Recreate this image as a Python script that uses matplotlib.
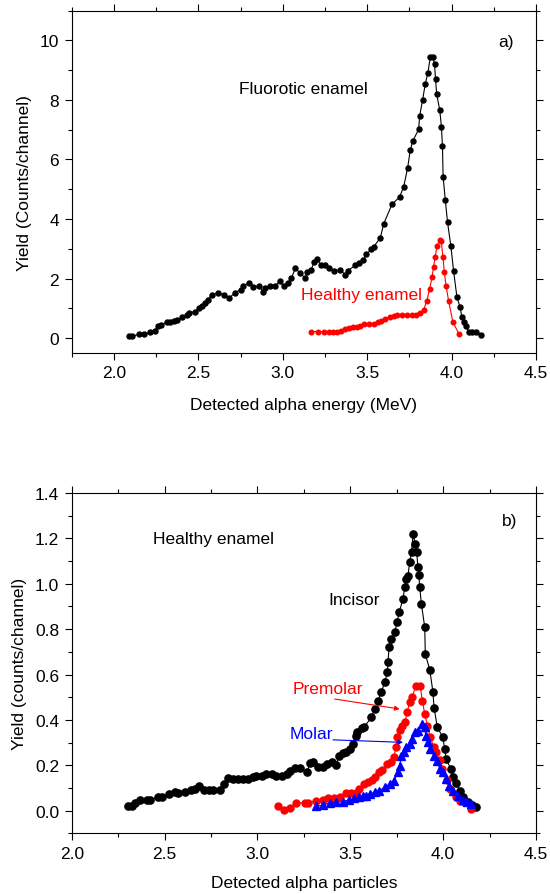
import matplotlib
matplotlib.use("Agg")
import matplotlib.pyplot as plt
from matplotlib.ticker import MultipleLocator

plt.rcParams['font.family'] = ['Liberation Sans', 'DejaVu Sans']

# a) fluorotic vs healthy enamel
fluor_x = [2.089, 2.108, 2.148, 2.178, 2.213, 2.243, 2.262, 2.276, 2.312, 2.331,
           2.355, 2.375, 2.404, 2.430, 2.444, 2.479, 2.503, 2.523, 2.542, 2.558,
           2.578, 2.617, 2.651, 2.684, 2.716, 2.750, 2.765, 2.799, 2.824, 2.860,
           2.884, 2.893, 2.923, 2.953, 2.982, 3.006, 3.030, 3.051, 3.075, 3.101,
           3.134, 3.144, 3.168, 3.187, 3.203, 3.229, 3.252, 3.272, 3.302, 3.337,
           3.371, 3.385, 3.430, 3.450, 3.475, 3.495, 3.523, 3.538, 3.578, 3.598,
           3.647, 3.692, 3.716, 3.740, 3.755, 3.771, 3.805, 3.811, 3.828, 3.844,
           3.860, 3.874, 3.890, 3.899, 3.905, 3.912, 3.930, 3.940, 3.946, 3.950,
           3.963, 3.976, 3.996, 4.012, 4.032, 4.051, 4.061, 4.071, 4.087, 4.101,
           4.120, 4.146, 4.174]
fluor_y = [0.08, 0.06, 0.13, 0.13, 0.19, 0.25, 0.42, 0.44, 0.53, 0.55,
           0.58, 0.61, 0.70, 0.79, 0.83, 0.89, 1.00, 1.09, 1.18, 1.29,
           1.46, 1.51, 1.46, 1.35, 1.52, 1.63, 1.76, 1.85, 1.70, 1.76,
           1.54, 1.67, 1.76, 1.74, 1.91, 1.74, 1.85, 2.01, 2.35, 2.19,
           2.01, 2.21, 2.30, 2.55, 2.64, 2.44, 2.44, 2.35, 2.24, 2.30,
           2.13, 2.27, 2.44, 2.53, 2.61, 2.81, 2.98, 3.06, 3.37, 3.84,
           4.49, 4.74, 5.08, 5.72, 6.31, 6.63, 7.01, 7.46, 7.99, 8.53,
           8.92, 9.43, 9.43, 9.20, 8.70, 8.19, 7.66, 7.10, 6.45, 5.42,
           4.63, 3.90, 3.08, 2.25, 1.37, 1.03, 0.70, 0.53, 0.42, 0.21,
           0.21, 0.19, 0.10]

healthy_x = [3.168, 3.207, 3.243, 3.272, 3.298, 3.321, 3.347, 3.367, 3.391, 3.416,
             3.440, 3.460, 3.483, 3.509, 3.538, 3.564, 3.582, 3.607, 3.633, 3.657,
             3.677, 3.706, 3.736, 3.765, 3.791, 3.815, 3.834, 3.854, 3.870, 3.884,
             3.893, 3.903, 3.913, 3.929, 3.939, 3.949, 3.957, 3.968, 3.982, 4.008,
             4.045]
healthy_y = [0.22, 0.22, 0.22, 0.22, 0.22, 0.22, 0.25, 0.30, 0.34, 0.36,
             0.36, 0.42, 0.47, 0.49, 0.49, 0.53, 0.58, 0.64, 0.70, 0.75,
             0.79, 0.79, 0.79, 0.79, 0.79, 0.83, 0.94, 1.26, 1.65, 2.04,
             2.38, 2.72, 3.08, 3.31, 3.26, 2.72, 2.21, 1.74, 1.26, 0.53,
             0.13]

# b) healthy enamel, three tooth types
incisor_x = [2.305, 2.323, 2.341, 2.368, 2.407, 2.421, 2.466, 2.484, 2.525, 2.556,
             2.574, 2.610, 2.640, 2.663, 2.687, 2.714, 2.741, 2.762, 2.798, 2.819,
             2.843, 2.870, 2.897, 2.923, 2.950, 2.974, 2.995, 3.022, 3.045, 3.076,
             3.099, 3.130, 3.157, 3.178, 3.201, 3.228, 3.268, 3.282, 3.300, 3.327,
             3.354, 3.377, 3.404, 3.425, 3.440, 3.461, 3.479, 3.497, 3.512, 3.530,
             3.534, 3.565, 3.573, 3.614, 3.632, 3.650, 3.668, 3.686, 3.700, 3.703,
             3.709, 3.721, 3.739, 3.752, 3.763, 3.784, 3.793, 3.802, 3.811, 3.820,
             3.830, 3.838, 3.850, 3.858, 3.864, 3.869, 3.874, 3.883, 3.901, 3.904,
             3.928, 3.945, 3.951, 3.969, 3.999, 4.008, 4.017, 4.041, 4.053, 4.071,
             4.089, 4.107, 4.134, 4.157, 4.179]
incisor_y = [0.022, 0.019, 0.034, 0.048, 0.047, 0.047, 0.059, 0.059, 0.073, 0.081,
             0.078, 0.081, 0.093, 0.095, 0.107, 0.093, 0.093, 0.093, 0.093, 0.118,
             0.143, 0.140, 0.140, 0.140, 0.140, 0.147, 0.154, 0.154, 0.162, 0.162,
             0.154, 0.154, 0.162, 0.173, 0.187, 0.187, 0.169, 0.209, 0.213, 0.191,
             0.191, 0.206, 0.213, 0.201, 0.242, 0.254, 0.260, 0.272, 0.294, 0.331,
             0.348, 0.363, 0.367, 0.411, 0.448, 0.485, 0.524, 0.566, 0.613, 0.654,
             0.720, 0.757, 0.786, 0.830, 0.874, 0.933, 0.984, 1.021, 1.036, 1.097,
             1.139, 1.219, 1.175, 1.141, 1.072, 1.039, 0.984, 0.911, 0.808, 0.690,
             0.621, 0.524, 0.454, 0.367, 0.323, 0.272, 0.228, 0.184, 0.150, 0.122,
             0.088, 0.059, 0.037, 0.025, 0.018]

premolar_x = [3.112, 3.142, 3.178, 3.207, 3.255, 3.273, 3.318, 3.354, 3.381, 3.413,
              3.443, 3.476, 3.503, 3.529, 3.547, 3.574, 3.596, 3.617, 3.632, 3.655,
              3.673, 3.700, 3.718, 3.736, 3.745, 3.754, 3.766, 3.779, 3.793, 3.807,
              3.820, 3.834, 3.852, 3.877, 3.888, 3.901, 3.915, 3.931, 3.949, 3.963,
              3.981, 3.996, 4.023, 4.039, 4.067, 4.089, 4.112, 4.152]
premolar_y = [0.019, 0.004, 0.010, 0.034, 0.034, 0.034, 0.044, 0.048, 0.054, 0.054,
              0.059, 0.078, 0.078, 0.078, 0.095, 0.118, 0.128, 0.135, 0.147, 0.169,
              0.179, 0.206, 0.213, 0.235, 0.279, 0.323, 0.357, 0.372, 0.389, 0.433,
              0.480, 0.502, 0.548, 0.548, 0.485, 0.426, 0.375, 0.323, 0.282, 0.257,
              0.223, 0.184, 0.137, 0.095, 0.059, 0.044, 0.037, 0.007]

molar_x = [3.318, 3.354, 3.390, 3.425, 3.461, 3.494, 3.521, 3.547, 3.569, 3.587,
           3.608, 3.632, 3.655, 3.686, 3.712, 3.736, 3.757, 3.766, 3.775, 3.788,
           3.802, 3.820, 3.834, 3.847, 3.865, 3.888, 3.901, 3.906, 3.919, 3.928,
           3.951, 3.969, 3.981, 3.999, 4.017, 4.032, 4.053, 4.080, 4.107, 4.128,
           4.152]
molar_y = [0.019, 0.025, 0.034, 0.037, 0.040, 0.048, 0.054, 0.059, 0.063, 0.066,
           0.073, 0.081, 0.088, 0.103, 0.118, 0.132, 0.169, 0.198, 0.242, 0.257,
           0.279, 0.294, 0.316, 0.345, 0.353, 0.382, 0.367, 0.331, 0.301, 0.272,
           0.242, 0.220, 0.184, 0.169, 0.140, 0.110, 0.088, 0.066, 0.048, 0.040,
           0.029]

fs = 12.5

fig = plt.figure(figsize=(5.5, 8.95), dpi=100)
ax1 = fig.add_axes([0.1304, 0.6045, 0.8441, 0.3825])
ax2 = fig.add_axes([0.1304, 0.0678, 0.8441, 0.3802])


def style(ax):
    ax.tick_params(which='both', direction='out', top=True, right=True,
                   labeltop=False, labelright=False, labelsize=fs, width=0.8, pad=4)
    ax.tick_params(which='major', length=5)
    ax.tick_params(which='minor', length=3)
    for s in ax.spines.values():
        s.set_linewidth(0.8)


# panel a
ax1.plot(fluor_x, fluor_y, '-o', color='black', lw=0.8, ms=3.6)
ax1.plot(healthy_x, healthy_y, '-o', color='red', lw=0.8, ms=3.3)
ax1.set_xlim(1.75, 4.5)
ax1.set_ylim(-0.5, 11)
ax1.xaxis.set_major_locator(MultipleLocator(0.5))
ax1.xaxis.set_minor_locator(MultipleLocator(0.25))
ax1.yaxis.set_major_locator(MultipleLocator(2))
ax1.yaxis.set_minor_locator(MultipleLocator(1))
ax1.xaxis.set_major_formatter(lambda v, p: f"{v:.1f}")
style(ax1)
ax1.set_xlabel("Detected alpha energy (MeV)", fontsize=fs, labelpad=12)
ax1.set_ylabel("Yield (Counts/channel)", fontsize=fs, labelpad=6)
ax1.text(2.738, 8.39, "Fluorotic enamel", fontsize=fs, va='center', ha='left')
ax1.text(3.109, 1.46, "Healthy enamel", fontsize=fs, va='center', ha='left', color='red')
ax1.text(0.918, 0.909, "a)", fontsize=fs, transform=ax1.transAxes, va='center')

# panel b
ax2.plot(incisor_x, incisor_y, '-o', color='black', lw=0.8, ms=5.2)
ax2.plot(premolar_x, premolar_y, '-o', color='red', lw=0.8, ms=5.0)
ax2.plot(molar_x, molar_y, '-^', color='blue', lw=0.8, ms=5.6)
ax2.set_xlim(2.0, 4.5)
ax2.set_ylim(-0.1, 1.4)
ax2.xaxis.set_major_locator(MultipleLocator(0.5))
ax2.xaxis.set_minor_locator(MultipleLocator(0.25))
ax2.yaxis.set_major_locator(MultipleLocator(0.2))
ax2.yaxis.set_minor_locator(MultipleLocator(0.1))
ax2.xaxis.set_major_formatter(lambda v, p: f"{v:.1f}")
ax2.yaxis.set_major_formatter(lambda v, p: f"{v:.1f}")
style(ax2)
ax2.set_xlabel("Detected alpha particles", fontsize=fs, labelpad=10)
ax2.set_ylabel("Yield (counts/channel)", fontsize=fs, labelpad=6)
ax2.text(2.436, 1.20, "Healthy enamel", fontsize=fs, va='center', ha='left')
ax2.text(3.380, 0.93, "Incisor", fontsize=fs, va='center', ha='left')
ax2.text(3.192, 0.539, "Premolar", fontsize=fs, va='center', ha='left', color='red')
ax2.text(3.174, 0.338, "Molar", fontsize=fs, va='center', ha='left', color='blue')
ax2.annotate("", xy=(3.766, 0.448), xytext=(3.416, 0.492),
             arrowprops=dict(arrowstyle='-|>', color='red', lw=0.8,
                             mutation_scale=7, shrinkA=0, shrinkB=0))
ax2.annotate("", xy=(3.784, 0.301), xytext=(3.407, 0.312),
             arrowprops=dict(arrowstyle='-|>', color='blue', lw=0.8,
                             mutation_scale=7, shrinkA=0, shrinkB=0))
ax2.text(0.926, 0.919, "b)", fontsize=fs, transform=ax2.transAxes, va='center')

fig.savefig("out.png", dpi=100)
